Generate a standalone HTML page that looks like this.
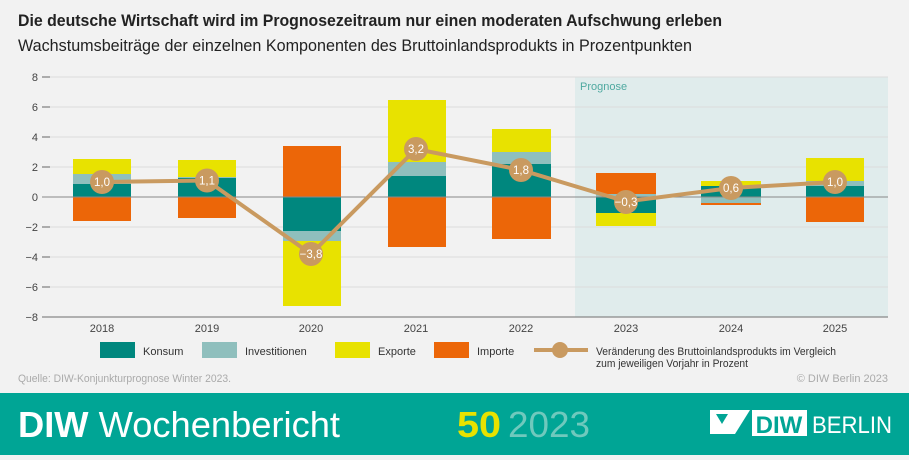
<!DOCTYPE html>
<html><head><meta charset="utf-8"><style>
body{margin:0;width:909px;height:455px;overflow:hidden;background:#f2f2f2;font-family:"Liberation Sans",sans-serif}
</style></head><body>
<svg width="909" height="455" xmlns="http://www.w3.org/2000/svg" font-family="Liberation Sans, sans-serif">
<rect width="909" height="455" fill="#f2f2f2"/>
<text x="18" y="26" font-size="17" font-weight="bold" fill="#222" textLength="704" lengthAdjust="spacingAndGlyphs">Die deutsche Wirtschaft wird im Prognosezeitraum nur einen moderaten Aufschwung erleben</text>
<text x="18" y="51" font-size="16.5" fill="#222" textLength="674" lengthAdjust="spacingAndGlyphs">Wachstumsbeiträge der einzelnen Komponenten des Bruttoinlandsprodukts in Prozentpunkten</text>
<rect x="575" y="77" width="313" height="240" fill="#e0ecec"/>
<text x="580" y="90" font-size="11" fill="#4fa9a0">Prognose</text>
<g stroke="#dcdcdc" stroke-width="1">
<line x1="42" x2="888" y1="77" y2="77"/><line x1="42" x2="888" y1="107" y2="107"/>
<line x1="42" x2="888" y1="137" y2="137"/><line x1="42" x2="888" y1="167" y2="167"/>
<line x1="42" x2="888" y1="227" y2="227"/><line x1="42" x2="888" y1="257" y2="257"/>
<line x1="42" x2="888" y1="287" y2="287"/>
</g>
<g stroke="#666" stroke-width="1">
<line x1="42" x2="50" y1="77" y2="77"/><line x1="42" x2="50" y1="107" y2="107"/>
<line x1="42" x2="50" y1="137" y2="137"/><line x1="42" x2="50" y1="167" y2="167"/>
<line x1="42" x2="50" y1="227" y2="227"/><line x1="42" x2="50" y1="257" y2="257"/>
<line x1="42" x2="50" y1="287" y2="287"/>
</g>
<g font-size="11" fill="#444" text-anchor="end">
<text x="38" y="81">8</text><text x="38" y="111">6</text><text x="38" y="141">4</text><text x="38" y="171">2</text>
<text x="38" y="201">0</text><text x="38" y="231">−2</text><text x="38" y="261">−4</text><text x="38" y="291">−6</text><text x="38" y="321">−8</text>
</g>
<g>
<rect x="73" y="159" width="58" height="15" fill="#e8e200"/>
<rect x="73" y="174" width="58" height="10" fill="#8fbfbd"/>
<rect x="73" y="184" width="58" height="13" fill="#00877e"/>
<rect x="73" y="197" width="58" height="24" fill="#ec6608"/>
<rect x="178" y="160" width="58" height="17" fill="#e8e200"/>
<rect x="178" y="177" width="58" height="1" fill="#8fbfbd"/>
<rect x="178" y="178" width="58" height="19" fill="#00877e"/>
<rect x="178" y="197" width="58" height="21" fill="#ec6608"/>
<rect x="283" y="146" width="58" height="51" fill="#ec6608"/>
<rect x="283" y="197" width="58" height="34" fill="#00877e"/>
<rect x="283" y="231" width="58" height="10" fill="#8fbfbd"/>
<rect x="283" y="241" width="58" height="65" fill="#e8e200"/>
<rect x="388" y="100" width="58" height="62" fill="#e8e200"/>
<rect x="388" y="162" width="58" height="14" fill="#8fbfbd"/>
<rect x="388" y="176" width="58" height="21" fill="#00877e"/>
<rect x="388" y="197" width="58" height="50" fill="#ec6608"/>
<rect x="492" y="129" width="59" height="23" fill="#e8e200"/>
<rect x="492" y="152" width="59" height="12" fill="#8fbfbd"/>
<rect x="492" y="164" width="59" height="33" fill="#00877e"/>
<rect x="492" y="197" width="59" height="42" fill="#ec6608"/>
<rect x="596" y="173" width="60" height="21" fill="#ec6608"/>
<rect x="596" y="194" width="60" height="3" fill="#8fbfbd"/>
<rect x="596" y="197" width="60" height="16" fill="#00877e"/>
<rect x="596" y="213" width="60" height="13" fill="#e8e200"/>
<rect x="701" y="181" width="60" height="5" fill="#e8e200"/>
<rect x="701" y="186" width="60" height="11" fill="#00877e"/>
<rect x="701" y="197" width="60" height="6" fill="#8fbfbd"/>
<rect x="701" y="203" width="60" height="2" fill="#ec6608"/>
<rect x="806" y="158" width="58" height="23" fill="#e8e200"/>
<rect x="806" y="181" width="58" height="5" fill="#8fbfbd"/>
<rect x="806" y="186" width="58" height="11" fill="#00877e"/>
<rect x="806" y="197" width="58" height="25" fill="#ec6608"/>
</g>
<line x1="42" x2="888" y1="197" y2="197" stroke="#888" stroke-width="1"/>
<line x1="42" x2="888" y1="317" y2="317" stroke="#888" stroke-width="1.2"/>
<polyline points="102,182 207,180.5 311,254 416,149 521,170 626,201.5 731,188 835,182" fill="none" stroke="#c99a60" stroke-width="4"/>
<g fill="#c99a60">
<circle cx="102" cy="182" r="12"/><circle cx="207" cy="180.5" r="12"/><circle cx="311" cy="254" r="12"/>
<circle cx="416" cy="149" r="12"/><circle cx="521" cy="170" r="12"/><circle cx="626" cy="202" r="12"/>
<circle cx="731" cy="188" r="12"/><circle cx="835" cy="182" r="12"/>
</g>
<g font-size="11.5" fill="#fff" text-anchor="middle">
<text x="102" y="186">1,0</text><text x="207" y="184.5">1,1</text><text x="311" y="258">−3,8</text>
<text x="416" y="153">3,2</text><text x="521" y="174">1,8</text><text x="626" y="206">−0,3</text>
<text x="731" y="192">0,6</text><text x="835" y="186">1,0</text>
</g>
<g font-size="11" fill="#444" text-anchor="middle">
<text x="102" y="332">2018</text><text x="207" y="332">2019</text><text x="311" y="332">2020</text><text x="416" y="332">2021</text>
<text x="521" y="332">2022</text><text x="626" y="332">2023</text><text x="731" y="332">2024</text><text x="835" y="332">2025</text>
</g>
<rect x="100" y="342" width="35" height="16" fill="#00877e"/><text x="143" y="355" font-size="11" fill="#333">Konsum</text>
<rect x="202" y="342" width="35" height="16" fill="#8fbfbd"/><text x="245" y="355" font-size="11" fill="#333">Investitionen</text>
<rect x="335" y="342" width="35" height="16" fill="#e8e200"/><text x="378" y="355" font-size="11" fill="#333">Exporte</text>
<rect x="434" y="342" width="35" height="16" fill="#ec6608"/><text x="477" y="355" font-size="11" fill="#333">Importe</text>
<line x1="534" x2="588" y1="350" y2="350" stroke="#c99a60" stroke-width="4"/><circle cx="560" cy="350" r="8" fill="#c99a60"/>
<text x="596" y="355" font-size="11" fill="#333" textLength="240" lengthAdjust="spacingAndGlyphs">Veränderung des Bruttoinlandsprodukts im Vergleich</text>
<text x="596" y="367" font-size="11" fill="#333" textLength="152" lengthAdjust="spacingAndGlyphs">zum jeweiligen Vorjahr in Prozent</text>
<text x="18" y="382" font-size="11" fill="#aaa" textLength="213" lengthAdjust="spacingAndGlyphs">Quelle: DIW-Konjunkturprognose Winter 2023.</text>
<text x="888" y="382" font-size="11" fill="#aaa" text-anchor="end">© DIW Berlin 2023</text>
<rect x="0" y="393" width="909" height="62" fill="#00a595"/>
<text x="18" y="437" font-size="36" fill="#fff" textLength="322" lengthAdjust="spacingAndGlyphs"><tspan font-weight="bold">DIW</tspan> Wochenbericht</text>
<text x="457" y="437" font-size="36" fill="#e8e200" font-weight="bold" textLength="44" lengthAdjust="spacingAndGlyphs">50</text>
<text x="508" y="437" font-size="36" fill="#6fc9bd" textLength="82" lengthAdjust="spacingAndGlyphs">2023</text>
<polygon points="710,410 750,410 735,434 710,434" fill="#fff"/>
<polygon points="716,414 728,414 722,424" fill="#00a595"/>
<rect x="752" y="410" width="55" height="26" fill="#fff"/>
<text x="779" y="433" font-size="24" font-weight="bold" fill="#00a595" text-anchor="middle">DIW</text>
<text x="812" y="433" font-size="24" fill="#fff" textLength="80" lengthAdjust="spacingAndGlyphs">BERLIN</text>
</svg>
</body></html>
